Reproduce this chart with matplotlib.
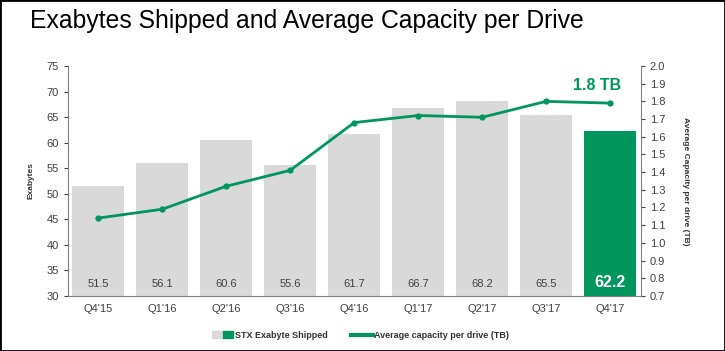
import numpy as np
import matplotlib.pyplot as plt
from matplotlib.patches import Patch, Rectangle
from matplotlib.legend_handler import HandlerTuple

plt.rcParams['font.family'] = ['Liberation Sans', 'DejaVu Sans']

# Data
quarters = ["Q4'15", "Q1'16", "Q2'16", "Q3'16", "Q4'16", "Q1'17", "Q2'17", "Q3'17", "Q4'17"]
exabytes = [51.5, 56.1, 60.6, 55.6, 61.7, 66.7, 68.2, 65.5, 62.2]
avg_cap = [1.14, 1.19, 1.32, 1.41, 1.68, 1.72, 1.71, 1.80, 1.79]

grey = '#d9d9d9'
green = '#00965e'
tick_col = '#404040'

fig = plt.figure(figsize=(7.25, 3.51), dpi=100)
fig.patches.append(Rectangle((0, 0), 1, 1, transform=fig.transFigure,
                             fill=False, edgecolor='black', linewidth=2))
ax = fig.add_axes([0.094, 0.157, 0.790, 0.655])
ax2 = ax.twinx()

x = np.arange(len(quarters))
colors = [grey] * (len(quarters) - 1) + [green]
ax.bar(x, np.array(exabytes) - 30, bottom=30, width=0.81, color=colors, zorder=1)

for i, v in enumerate(exabytes):
    if i == len(exabytes) - 1:
        ax.text(i, 31.2, '%.1f' % v, ha='center', va='bottom', color='white',
                fontsize=11.5, fontweight='bold')
    else:
        ax.text(i, 31.3, '%.1f' % v, ha='center', va='bottom', color=tick_col, fontsize=8)

ax2.plot(x, avg_cap, color=green, linewidth=2, marker='o', markersize=3.5, zorder=3)
ax2.text(x[-1] - 0.2, avg_cap[-1] + 0.06, '1.8 TB', color=green, fontsize=11.5,
         fontweight='bold', ha='center', va='bottom')

ax.set_ylim(30, 75)
ax.set_yticks(np.arange(30, 76, 5))
ax2.set_ylim(0.7, 2.0)
ax2.set_yticks(np.arange(0.7, 2.01, 0.1))
ax2.set_yticklabels(['%.1f' % t for t in np.arange(0.7, 2.01, 0.1)])
ax.set_xlim(-0.47, len(quarters) - 0.52)
ax.set_xticks(x)
ax.set_xticklabels(quarters)

for a in (ax, ax2):
    a.spines['top'].set_visible(False)
    a.tick_params(labelsize=8, colors=tick_col, length=3)
    for s in ('left', 'right', 'bottom'):
        a.spines[s].set_color('#808080')
ax.spines['right'].set_visible(False)
ax2.spines['left'].set_visible(False)
ax2.spines['bottom'].set_visible(False)
ax.tick_params(axis='x', length=0, pad=6)

ax.set_ylabel('Exabytes', fontsize=6, fontweight='bold', color='#333333', labelpad=9)
ax2.set_ylabel('Average Capacity per drive (TB)', fontsize=6, fontweight='bold',
               color='#333333', rotation=270, labelpad=17)

fig.text(0.041, 0.94, 'Exabytes Shipped and Average Capacity per Drive', fontsize=17.8,
         va='center', ha='left')

h_bar = (Patch(color=grey), Patch(color=green))
h_line = plt.Line2D([], [], color=green, linewidth=3)
fig.legend([h_bar, h_line], ['STX Exabyte Shipped', 'Average capacity per drive (TB)'],
           handler_map={tuple: HandlerTuple(ndivide=None, pad=0)},
           loc='center', bbox_to_anchor=(0.497, 0.045), ncol=2, frameon=False,
           fontsize=6.5, handlelength=2.4, columnspacing=2.6, handletextpad=0.15)
for t in fig.legends[0].get_texts():
    t.set_fontweight('bold')
    t.set_color('#333333')

fig.savefig('out.png', dpi=100)
